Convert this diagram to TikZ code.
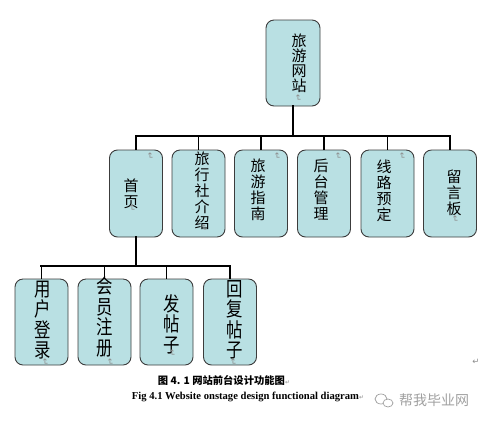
\documentclass[tikz,border=0pt]{standalone}
\usepackage{fontspec}
\setmainfont{Liberation Serif}
\newfontfamily\cjk{Noto Sans CJK SC}
\newfontfamily\cjknarrow[FakeStretch=0.82]{Noto Sans CJK SC}
\newfontfamily\dejavu{DejaVu Sans}
\definecolor{boxfill}{HTML}{B9E0E3}
\definecolor{boxline}{HTML}{3C3C3C}
\definecolor{markgray}{HTML}{8C8C8C}
\definecolor{wmgray}{HTML}{A0A0A0}
\begin{document}
\begin{tikzpicture}[x=1pt,y=-1pt,
  box/.style={draw=boxline, fill=boxfill, rounded corners=8pt, line width=0.9pt,
    minimum width=53pt, inner sep=0pt},
  topbox/.style={box, minimum width=54pt, minimum height=86pt},
  midbox/.style={box, minimum height=87pt},
  lowbox/.style={box, minimum height=86pt},
  toptxt/.style={align=center, inner sep=0pt, font=\cjk\fontsize{15}{15}\selectfont},
  midtxt/.style={align=center, inner sep=0pt, font=\cjk\fontsize{15}{16}\selectfont},
  lowtxt/.style={align=center, inner sep=0pt, font=\cjknarrow\fontsize{20}{20.5}\selectfont},
  pmark/.style={inner sep=0pt, text=markgray, rotate=-90, font=\dejavu\fontsize{8.5}{8.5}\selectfont},
  hmark/.style={inner sep=0pt, text=markgray, font=\dejavu\fontsize{8.5}{8.5}\selectfont},
  stem/.style={line width=2.6pt, line cap=rect},
  bar/.style={line width=2.4pt, line cap=rect},
  drop/.style={line width=1.9pt}
]
\useasboundingbox (0,0) rectangle (484,424);

% boxes
\node[topbox] (top) at (293,63) {};
\node[midbox] (b1) at (136,193.5) {};
\node[midbox] (b2) at (198.5,193.5) {};
\node[midbox] (b3) at (261,193.5) {};
\node[midbox] (b4) at (324,193.5) {};
\node[midbox] (b5) at (387.5,193.5) {};
\node[midbox] (b6) at (450,193.5) {};
\node[lowbox] (c1) at (41.5,322) {};
\node[lowbox] (c2) at (104.5,322) {};
\node[lowbox] (c3) at (166.5,322) {};
\node[lowbox] (c4) at (230,322) {};

% connectors
\coordinate (bus1) at (293,136);
\coordinate (bus2) at (136,266);
\draw[stem] (top.south) -- (bus1);
\draw[bar] (b1.north |- bus1) -- (b6.north |- bus1);
\foreach \n in {b1,b2,b3,b4,b5,b6} \draw[drop] (\n.north |- bus1) -- (\n.north);
\draw[stem] (b1.south) -- (bus2);
\draw[bar] (c1.north |- bus2) -- (c4.north |- bus2);
\foreach \n in {c1,c2,c3,c4} \draw[drop] (\n.north |- bus2) -- (\n.north);

% texts
\node[toptxt] (t0) at (299,63) {旅\\游\\网\\站};
\node[midtxt] (t1) at (131,194) {首\\页};
\node[midtxt] (t2) at (202,191) {旅\\行\\社\\介\\绍};
\node[midtxt] (t3) at (258,190) {旅\\游\\指\\南};
\node[midtxt] (t4) at (321,190) {后\\台\\管\\理};
\node[midtxt] (t5) at (384,191) {线\\路\\预\\定};
\node[midtxt] (t6) at (454,193) {留\\言\\板};
\node[lowtxt] (u1) at (43,320) {用\\户\\登\\录};
\node[lowtxt] (u2) at (105,317) {会\\员\\注\\册};
\node[lowtxt] (u3) at (172,324) {发\\帖\\子};
\node[lowtxt] (u4) at (235,320) {回\\复\\帖\\子};

% paragraph marks
\node[pmark] (m0) at (298,98) {↵};
\node[pmark] (m1) at (132,208) {↵};
\node[pmark] (m2) at (204,228) {↵};
\node[pmark] (m3) at (257,218) {↵};
\node[pmark] (m4) at (320,218) {↵};
\node[pmark] (m5) at (382,218) {↵};
\node[pmark] (m6) at (455,219) {↵};
\node[pmark] (n1) at (150,156) {↵};
\node[pmark] (n3) at (277,156) {↵};
\node[pmark] (n4) at (338,156) {↵};
\node[pmark] (n5) at (402,156) {↵};
\node[pmark] (p1) at (45,362) {↵};
\node[pmark] (p2) at (110,362) {↵};
\node[pmark] (p3) at (172,353) {↵};
\node[pmark] (p4) at (233,362) {↵};
\node[hmark] (q0) at (476,362) {↵};

% captions
\node[inner sep=0pt, font=\cjk\bfseries\fontsize{10.3}{10.3}\selectfont] (cap1) at (224,380)
  {图 4. 1 网站前台设计功能图\textcolor{markgray}{\dejavu\mdseries\fontsize{6}{6}\selectfont ↵}};
\node[inner sep=0pt, font=\bfseries\fontsize{10.6}{10.6}\selectfont] (cap2) at (248,397)
  {Fig 4.1 Website onstage design functional diagram\textcolor{markgray}{\dejavu\mdseries\fontsize{6}{6}\selectfont ↵}};

% watermark
\draw[wmgray, line width=0.7pt] (381,399) ellipse (6pt and 5pt);
\draw[wmgray, line width=0.7pt, fill=white] (388,403) ellipse (5pt and 4pt);
\node[inner sep=0pt, text=wmgray, font=\cjk\fontsize{14}{14}\selectfont] (wm) at (434,400) {帮我毕业网};
\end{tikzpicture}
\end{document}
